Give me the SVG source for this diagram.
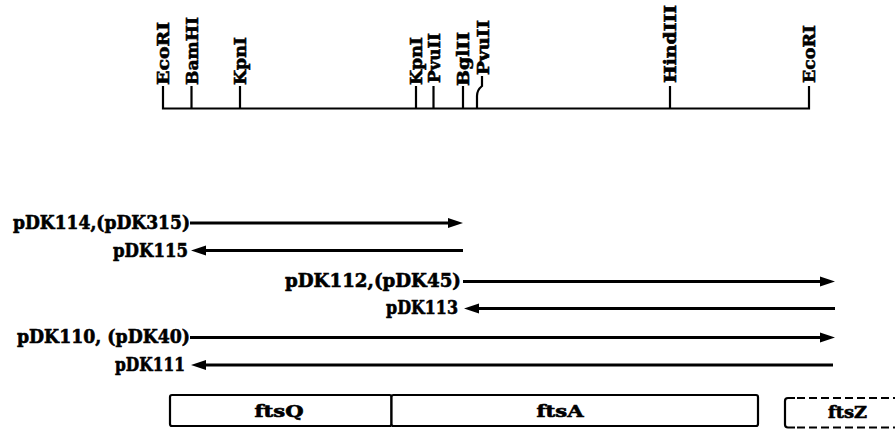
<svg xmlns="http://www.w3.org/2000/svg" width="895" height="429" viewBox="0 0 895 429">
<style>
.bg{fill:#fff}
.site{font-family:"DejaVu Serif","Liberation Serif",serif;font-weight:bold;font-size:17px;fill:#000;stroke:#000;stroke-width:0.6}
.lbl{font-family:"DejaVu Serif","Liberation Serif",serif;font-weight:bold;font-size:18px;fill:#000;stroke:#000;stroke-width:0.6}
.gene{font-family:"DejaVu Serif","Liberation Serif",serif;font-weight:bold;font-size:16px;fill:#000;stroke:#000;stroke-width:0.6;text-anchor:middle}
.map{stroke:#000;stroke-width:2.2;fill:none}
.arr{stroke:#000;stroke-width:3;fill:none}
.box{stroke:#000;stroke-width:2.2;fill:#fff}
</style>
<defs>
<marker id="ah" markerUnits="userSpaceOnUse" markerWidth="18" markerHeight="12" viewBox="0 -6 18 12" refX="3" refY="0" orient="auto-start-reverse">
<path d="M0,-5 L15,0 L0,5 z" fill="#000"/>
</marker>
</defs>
<rect class="bg" x="0" y="0" width="895" height="429"/>
<g id="map">
<path class="map" d="M163,86 V108.5 H809 V86"/>
<path class="map" d="M191.5,86 V108.5 M240,86 V108.5 M416,86 V108.5 M433.5,86 V108.5 M463,86 V108.5 M670,86 V108.5"/>
<path class="map" d="M477,108.5 V96 Q477,90 482,86 V76"/>
<text class="site" transform="translate(169,85) rotate(-90)" textLength="63" lengthAdjust="spacingAndGlyphs">EcoRI</text>
<text class="site" transform="translate(197.5,85) rotate(-90)" textLength="68" lengthAdjust="spacingAndGlyphs">BamHI</text>
<text class="site" transform="translate(246,85) rotate(-90)" textLength="48" lengthAdjust="spacingAndGlyphs">KpnI</text>
<text class="site" transform="translate(422,85) rotate(-90)" textLength="48" lengthAdjust="spacingAndGlyphs">KpnI</text>
<text class="site" transform="translate(439.5,83) rotate(-90)" textLength="50" lengthAdjust="spacingAndGlyphs">PvuII</text>
<text class="site" transform="translate(469,86) rotate(-90)" textLength="54" lengthAdjust="spacingAndGlyphs">BglII</text>
<text class="site" transform="translate(489,75) rotate(-90)" textLength="55" lengthAdjust="spacingAndGlyphs">PvuII</text>
<text class="site" transform="translate(676,83) rotate(-90)" textLength="78" lengthAdjust="spacingAndGlyphs">HindIII</text>
<text class="site" transform="translate(814.5,83) rotate(-90)" textLength="58" lengthAdjust="spacingAndGlyphs">EcoRI</text>
</g>
<g id="labels">
<text class="lbl" x="13" y="229" textLength="177" lengthAdjust="spacingAndGlyphs">pDK114,(pDK315)</text>
<text class="lbl" x="113" y="256.5" textLength="75" lengthAdjust="spacingAndGlyphs">pDK115</text>
<text class="lbl" x="285" y="287" textLength="176" lengthAdjust="spacingAndGlyphs">pDK112,(pDK45)</text>
<text class="lbl" x="386" y="314" textLength="72" lengthAdjust="spacingAndGlyphs">pDK113</text>
<text class="lbl" x="17" y="343" textLength="173" lengthAdjust="spacingAndGlyphs">pDK110, (pDK40)</text>
<text class="lbl" x="115" y="370.5" textLength="70" lengthAdjust="spacingAndGlyphs">pDK111</text>
</g>
<g id="connectors">
<line class="arr" x1="190" y1="223" x2="451" y2="223" marker-end="url(#ah)"/>
<line class="arr" x1="203" y1="250.5" x2="463" y2="250.5" marker-start="url(#ah)"/>
<line class="arr" x1="463" y1="281.5" x2="823" y2="281.5" marker-end="url(#ah)"/>
<line class="arr" x1="476" y1="308.5" x2="835" y2="308.5" marker-start="url(#ah)"/>
<line class="arr" x1="190" y1="337.5" x2="823" y2="337.5" marker-end="url(#ah)"/>
<line class="arr" x1="203" y1="365" x2="833" y2="365" marker-start="url(#ah)"/>
</g>
<g id="ftsQ">
<rect class="box" x="170" y="395" width="221.5" height="31" rx="2"/>
<text class="gene" x="279" y="416.5" textLength="49" lengthAdjust="spacingAndGlyphs">ftsQ</text>
</g>
<g id="ftsA">
<rect class="box" x="391.5" y="395" width="366.5" height="31" rx="2"/>
<text class="gene" x="560" y="416.5" textLength="47" lengthAdjust="spacingAndGlyphs">ftsA</text>
</g>
<g id="ftsZ">
<path class="map" d="M795,398 H788 Q785,398 785,401 V424.5 Q785,427.5 788,427.5 H795"/>
<path class="map" stroke-dasharray="8,4" d="M797,398 H895 M797,427.5 H895"/>
<text class="gene" x="847.5" y="418" textLength="39" lengthAdjust="spacingAndGlyphs">ftsZ</text>
</g>
</svg>
